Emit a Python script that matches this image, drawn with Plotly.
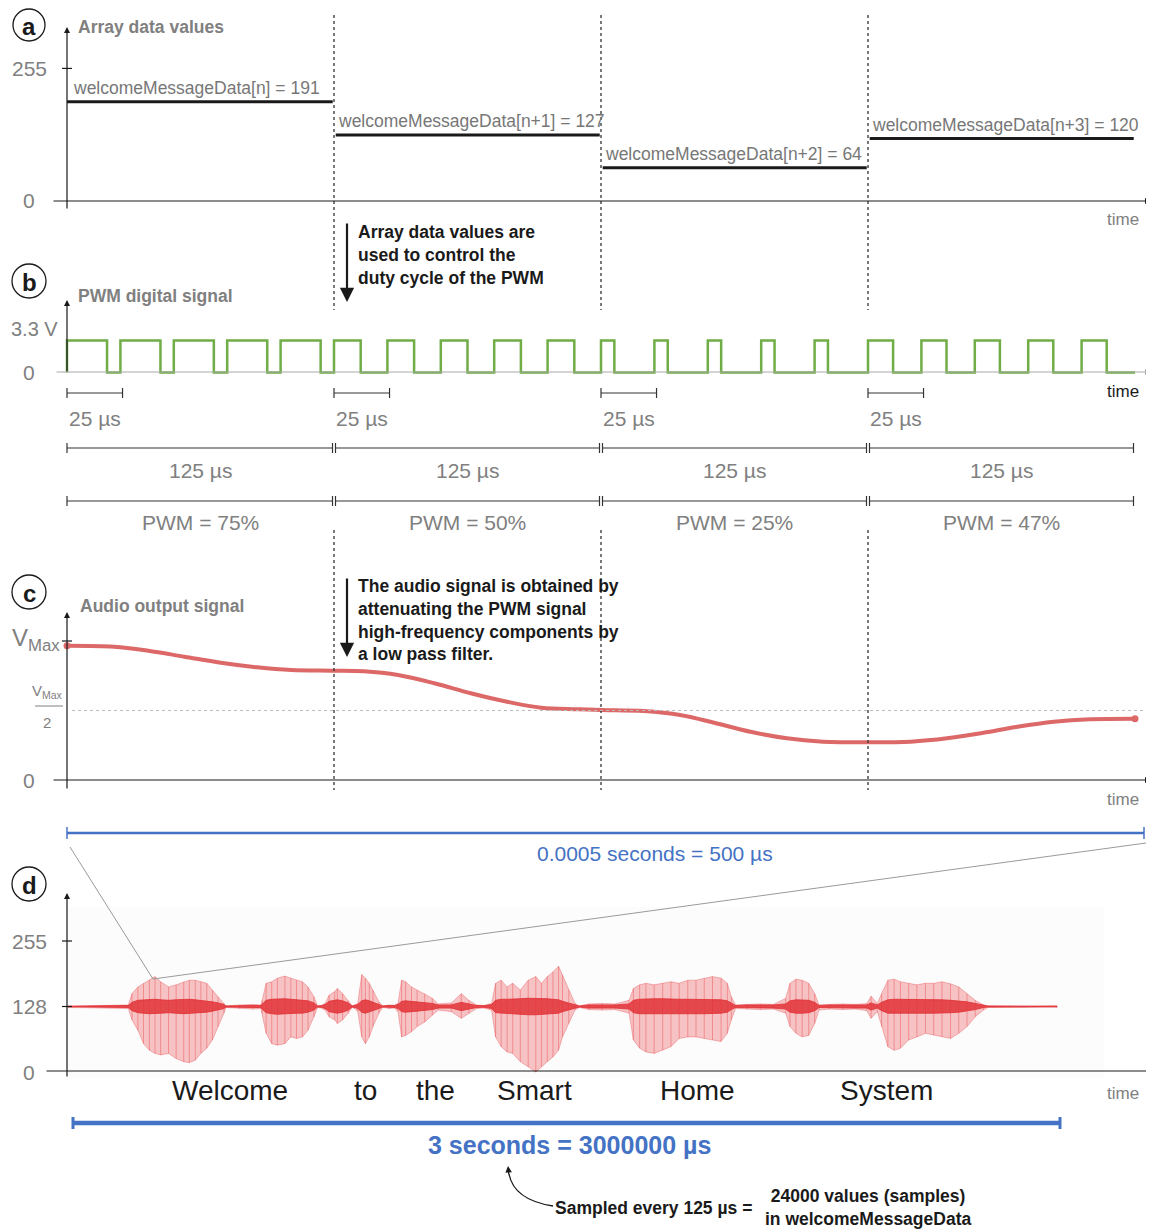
import plotly.graph_objects as go

W, H = 1154, 1231
OFF = 8  # page body margin in the browser
FW, FH = W - OFF, H - OFF

# ---------------- data ----------------
segment_us = 125
pwm_period_us = 25
array_labels = ["welcomeMessageData[n] = 191", "welcomeMessageData[n+1] = 127",
                "welcomeMessageData[n+2] = 64", "welcomeMessageData[n+3] = 120"]
array_values = [191, 127, 64, 120]
pwm_duty_pct = [75, 50, 25, 47]
pwm_labels = ["PWM = 75%", "PWM = 50%", "PWM = 25%", "PWM = 47%"]
pwm_high_v = 3.3
period_label = "25 µs"
segment_label = "125 µs"

# low-pass filtered audio output (fraction of V_Max)
audio_t_us = [0, 22, 38, 55, 72, 89, 105, 124, 139, 155, 172, 189, 206, 222, 239, 250,
              270, 287, 303, 320, 337, 354, 375, 395, 412, 429, 445, 462, 479, 500]
audio_v_rel = [0.966, 0.959, 0.930, 0.887, 0.844, 0.811, 0.791, 0.786, 0.782, 0.755, 0.696,
               0.624, 0.563, 0.520, 0.509, 0.504, 0.496, 0.468, 0.412, 0.347, 0.300, 0.276,
               0.271, 0.276, 0.300, 0.340, 0.383, 0.419, 0.437, 0.441]

# 3 s speech waveform envelope (seconds, 0..255 values)
wave_t_s = [0.000, 0.014, 0.183, 0.194, 0.212, 0.229, 0.247, 0.264, 0.281, 0.305, 0.328, 0.351,
            0.368, 0.386, 0.403, 0.421, 0.438, 0.455, 0.473, 0.479,
            0.520, 0.560, 0.585,
            0.589, 0.601, 0.618, 0.635, 0.658, 0.676, 0.693, 0.711, 0.728, 0.746, 0.757,
            0.768,
            0.780, 0.792, 0.809, 0.817, 0.833, 0.850, 0.862,
            0.870,
            0.879, 0.891, 0.902, 0.914, 0.925, 0.943, 0.955,
            0.975, 0.990,
            1.001, 1.012, 1.024, 1.042, 1.059, 1.082, 1.105, 1.123,
            1.163, 1.193, 1.216, 1.239,
            1.262,
            1.285, 1.297, 1.314, 1.332, 1.349, 1.372, 1.396, 1.419, 1.436, 1.454, 1.471, 1.488,
            1.500, 1.519, 1.538, 1.551,
            1.580, 1.620, 1.660,
            1.702, 1.715, 1.734, 1.753, 1.778, 1.804, 1.829, 1.854, 1.880, 1.905, 1.930, 1.955,
            1.981, 2.000, 2.012, 2.025,
            2.060, 2.100, 2.140,
            2.177, 2.190, 2.208, 2.227, 2.247, 2.265, 2.278,
            2.310, 2.350, 2.390,
            2.423, 2.436, 2.455,
            2.468, 2.487, 2.506, 2.525, 2.550, 2.575, 2.601, 2.626, 2.651, 2.677, 2.702, 2.727,
            2.752, 2.777, 2.790,
            2.900, 3.000]
wave_top = [129, 129, 131, 153, 166, 173, 179, 186, 176, 166, 170, 176, 179, 179, 176, 173, 160, 147, 134, 129,
            131, 132, 131,
            140, 173, 176, 183, 187, 183, 179, 176, 166, 147, 129,
            130,
            134, 150, 157, 163, 153, 140, 129,
            131,
            134, 190, 183, 173, 160, 137, 129,
            131, 130,
            134, 179, 176, 166, 160, 153, 144, 133,
            135, 153, 140, 131,
            130,
            134, 173, 179, 166, 173, 160, 179, 186, 173, 186, 195, 206, 189, 160, 134, 129,
            133, 134, 133,
            140, 163, 170, 173, 170, 173, 176, 173, 179, 179, 183, 186, 183, 173, 147, 131,
            132, 133, 132,
            144, 173, 181, 179, 173, 153, 131,
            132, 133, 132,
            134, 148, 134,
            153, 179, 181, 176, 173, 170, 173, 173, 176, 172, 166, 153, 140, 131, 129,
            129, 129]
wave_bot = [126, 126, 124, 102, 82, 56, 43, 37, 34, 37, 27, 21, 19, 24, 37, 47, 63, 89, 115, 126,
            124, 123, 124,
            115, 76, 56, 53, 56, 69, 66, 69, 82, 108, 126,
            125,
            121, 108, 102, 95, 102, 115, 126,
            124,
            118, 69, 56, 69, 89, 115, 126,
            124, 125,
            118, 69, 72, 79, 89, 98, 111, 121,
            118, 105, 115, 124,
            125,
            121, 69, 50, 40, 37, 21, 11, 1, 11, 21, 30, 43, 69, 95, 121, 126,
            122, 121, 122,
            115, 63, 47, 40, 37, 43, 50, 66, 69, 69, 66, 63, 60, 76, 102, 124,
            123, 122, 123,
            115, 89, 76, 69, 72, 95, 121,
            123, 122, 123,
            120, 105, 118,
            89, 50, 43, 47, 63, 69, 76, 72, 69, 66, 76, 89, 108, 121, 126,
            126, 126]
wave_core = [0.5, 0.5, 2, 8, 12, 13, 14, 14, 13, 12, 13, 14, 14, 13, 12, 11, 9, 7, 4, 1,
             2, 2, 2,
             5, 12, 14, 15, 15, 14, 13, 13, 11, 7, 1,
             1.5,
             4, 10, 12, 13, 11, 7, 1,
             2,
             4, 11, 13, 11, 8, 4, 1,
             2, 2,
             4, 10, 11, 10, 9, 8, 6, 3,
             3, 8, 5, 2,
             1.5,
             4, 12, 14, 14, 15, 15, 16, 16, 15, 15, 14, 13, 10, 7, 3, 1,
             3, 3, 3,
             5, 12, 14, 15, 15, 15, 14, 14, 14, 14, 14, 14, 13, 11, 6, 2,
             3, 3, 3,
             5, 11, 13, 13, 12, 8, 2,
             3, 3, 3,
             3, 7, 3,
             8, 13, 14, 14, 13, 13, 13, 13, 13, 12, 11, 9, 6, 2, 1,
             0.5, 0.5]
wave_mid = 128

words = ["Welcome", "to", "the", "Smart", "Home", "System"]
word_t_s = [0.491, 0.901, 1.116, 1.416, 1.911, 2.484]

a_ticks = [0, 255]
d_ticks = [0, 128, 255]

# ---------------- helpers ----------------
FONT = "Liberation Sans, Arial, Helvetica, sans-serif"
GRAY = "#808080"
DARK = "#1a1a1a"
BLUE = "#4472c4"
GREEN = "#70ad47"
RED_C = "#dc6868"


def P(x):
    return (x - OFF) / FW


def Q(y):
    return 1 - (y - OFF) / FH


def x_range(px0, v0, px1, v1):
    s = (px1 - px0) / (v1 - v0)
    a = px0 - OFF
    return [v0 - a / s, v0 + (FW - a) / s]


def y_axis(px0, v0, px1, v1, top, bot):
    top = max(top, OFF)
    bot = min(bot, H)
    s = (px0 - px1) / (v1 - v0)
    return dict(domain=[1 - (bot - OFF) / FH, 1 - (top - OFF) / FH],
                range=[v0 - (bot - px0) / s, v0 + (px0 - top) / s])


anns, shapes = [], []


def text(x, y, s, size, color=GRAY, bold=False, xanchor="center", yanchor="middle",
         xref="paper", yref="paper", align="center", yshift=0):
    anns.append(dict(x=P(x) if xref == "paper" else x, y=Q(y) if yref == "paper" else y,
                     xref=xref, yref=yref, text=s, showarrow=False, xanchor=xanchor,
                     yanchor=yanchor, align=align, yshift=yshift,
                     font=dict(family=FONT, size=size, color=color,
                               weight="bold" if bold else "normal")))


def arrow(xh, yh, xt, yt, color=DARK, width=1.2, head=2, size=1.0):
    anns.append(dict(x=P(xh), y=Q(yh), xref="paper", yref="paper", ax=xt - xh, ay=yt - yh,
                     axref="pixel", ayref="pixel", text="", showarrow=True, arrowhead=head,
                     arrowsize=size, arrowwidth=width, arrowcolor=color, standoff=0))


def seg(x0, y0, x1, y1, color=DARK, width=1.2, dash="solid", xref="paper", yref="paper"):
    shapes.append(dict(type="line", xref=xref, yref=yref,
                       x0=P(x0) if xref == "paper" else x0, x1=P(x1) if xref == "paper" else x1,
                       y0=Q(y0) if yref == "paper" else y0, y1=Q(y1) if yref == "paper" else y1,
                       line=dict(color=color, width=width, dash=dash)))


def badge(cx, cy, letter, r=17):
    shapes.append(dict(type="circle", xref="paper", yref="paper", x0=P(cx - r), x1=P(cx + r),
                       y0=Q(cy + r), y1=Q(cy - r), line=dict(color=DARK, width=1.3)))
    text(cx, cy + 1, letter, 24, DARK, bold=True)


def bar(t0, t1, ypx, color="#333333", width=1.2, tick=5, xref="x"):
    seg(t0, ypx, t1, ypx, color, width, xref=xref)
    seg(t0, ypx - tick, t0, ypx + tick, color, width, xref=xref)
    seg(t1, ypx - tick, t1, ypx + tick, color, width, xref=xref)


fig = go.Figure()

# ---------------- panel a: array values ----------------
lx, ly = [], []
for i, v in enumerate(array_values):
    t0 = i * segment_us + (0 if i == 0 else 0.8)
    t1 = (i + 1) * segment_us - 0.6
    lx += [t0, t1, None]
    ly += [v, v, None]
fig.add_trace(go.Scatter(x=lx, y=ly, xaxis="x", yaxis="y", mode="lines",
                         line=dict(color=DARK, width=3), hoverinfo="skip", showlegend=False))

# ---------------- panel b: PWM ----------------
px_, py_ = [0], [0]
n_per = segment_us // pwm_period_us
for i, d in enumerate(pwm_duty_pct):
    for k in range(n_per):
        t0 = i * segment_us + k * pwm_period_us
        th = t0 + pwm_period_us * d / 100
        px_ += [t0, t0, th, th]
        py_ += [0, pwm_high_v, pwm_high_v, 0]
px_.append(len(pwm_duty_pct) * segment_us)
py_.append(0)
fig.add_trace(go.Scatter(x=px_, y=py_, xaxis="x", yaxis="y2", mode="lines",
                         line=dict(color=GREEN, width=2.5), hoverinfo="skip", showlegend=False))

# ---------------- panel c: audio output ----------------
fig.add_trace(go.Scatter(x=audio_t_us, y=audio_v_rel, xaxis="x", yaxis="y3", mode="lines",
                         line=dict(color=RED_C, width=4, shape="spline", smoothing=1.0),
                         hoverinfo="skip", showlegend=False))
fig.add_trace(go.Scatter(x=[audio_t_us[0], audio_t_us[-1]], y=[audio_v_rel[0], audio_v_rel[-1]],
                         xaxis="x", yaxis="y3", mode="markers",
                         marker=dict(color=RED_C, size=7), hoverinfo="skip", showlegend=False))

# ---------------- panel d: waveform ----------------
fig.add_trace(go.Scatter(x=wave_t_s + wave_t_s[::-1], y=wave_top + wave_bot[::-1],
                         xaxis="x2", yaxis="y4", mode="lines", fill="toself",
                         fillcolor="rgba(232,70,75,0.32)",
                         line=dict(color="rgba(232,70,75,0.45)", width=0.8),
                         hoverinfo="skip", showlegend=False))
vx, vy = [], []
for t, hi, lo in zip(wave_t_s, wave_top, wave_bot):
    vx += [t, t, None]
    vy += [lo, hi, None]
fig.add_trace(go.Scatter(x=vx, y=vy, xaxis="x2", yaxis="y4", mode="lines",
                         line=dict(color="rgba(232,60,65,0.4)", width=1),
                         hoverinfo="skip", showlegend=False))
core_hi = [wave_mid + c for c in wave_core]
core_lo = [wave_mid - c for c in wave_core]
fig.add_trace(go.Scatter(x=wave_t_s + wave_t_s[::-1], y=core_hi + core_lo[::-1],
                         xaxis="x2", yaxis="y4", mode="lines", fill="toself",
                         fillcolor="rgba(226,50,55,0.85)",
                         line=dict(color="rgba(226,50,55,0.85)", width=1),
                         hoverinfo="skip", showlegend=False))

# ---------------- decorations ----------------
# panel a
badge(29, 25, "a", 16)
arrow(67, 27, 67, 210)
arrow(1151, 201, 52, 201)
seg(62, 255, 72, 255, yref="y")
for v in a_ticks:
    text(29, v, str(v), 21, GRAY, yref="y")
text(76, 27, "Array data values", 17.5, GRAY, bold=True, xanchor="left")
for i, (lab, v) in enumerate(zip(array_labels, array_values)):
    text(i * segment_us + (2 if i == 0 else 1), v, lab, 17.5, "#777777", xanchor="left",
         xref="x", yref="y", yshift=14)
text(1123, 220, "time", 17, GRAY)

for i in range(1, len(array_values)):
    seg(i * segment_us, 15, i * segment_us, 310, "#333333", 1.3, "dot", xref="x")
    seg(i * segment_us, 530, i * segment_us, 790, "#333333", 1.3, "dot", xref="x")

arrow(347, 302, 347, 222, DARK, 2.2, 2, 1.3)
text(356, 220, "Array data values are<br>used to control the<br>duty cycle of the PWM", 17.5,
     DARK, bold=True, xanchor="left", yanchor="top", align="left")

# panel b
badge(29, 281, "b")
text(76, 296, "PWM digital signal", 17.5, GRAY, bold=True, xanchor="left")
arrow(67, 300, 67, 373)
arrow(1151, 372, 55, 372, "#aaaaaa", 1.2)
text(9, pwm_high_v, "3.3 V", 20, GRAY, xanchor="left", yref="y2", yshift=12)
text(29, 0, "0", 21, GRAY, yref="y2")
text(1123, 391, "time", 17, DARK)

for i in range(len(pwm_duty_pct)):
    s = i * segment_us
    bar(s, s + pwm_period_us + 1, 393)
    text(s + (pwm_period_us + 1) / 2, 418, period_label, 21, GRAY, xref="x")
    a0 = s + (0 if i == 0 else 0.7)
    a1 = s + segment_us - 0.7
    bar(a0, a1, 448)
    text(s + segment_us / 2, 470, segment_label, 21, GRAY, xref="x")
    bar(a0, a1, 501)
    text(s + segment_us / 2, 522, pwm_labels[i], 21, GRAY, xref="x")

# panel c
badge(29, 592, "c")
text(78, 606, "Audio output signal", 17.5, GRAY, bold=True, xanchor="left")
arrow(67, 612, 67, 790)
arrow(1151, 780, 52, 780)
seg(62, 1, 72, 1, yref="y3")
text(10, 1, "V<sub>Max</sub>", 24, GRAY, xanchor="left", yref="y3", yshift=2)
seg(72, 0.5, 1150, 0.5, "#bbbbbb", 1, "dot", yref="y3")
text(47, 691, "V<sub>Max</sub>", 15, GRAY)
seg(35, 706, 63, 706, GRAY, 1)
text(47, 722, "2", 15, GRAY)
text(29, 0, "0", 21, GRAY, yref="y3")
text(1123, 799, "time", 17, GRAY)
arrow(347, 657, 347, 577, DARK, 2.2, 2, 1.3)
text(356, 574, "The audio signal is obtained by<br>attenuating the PWM signal<br>"
     "high-frequency components by<br>a low pass filter.", 17.5, DARK, bold=True,
     xanchor="left", yanchor="top", align="left")

# 500 us bar and zoom connectors
seg(67, 833, 1144, 833, BLUE, 2.5)
seg(67, 827, 67, 839, BLUE, 1.5)
seg(1144, 827, 1144, 839, BLUE, 1.5)
text(655, 853, "0.0005 seconds = 500 µs", 21, BLUE)
seg(70, 847, 153, 979, "#9a9a9a", 1)
seg(1146, 843, 153, 979, "#9a9a9a", 1)

# panel d
shapes.append(dict(type="rect", xref="paper", yref="paper", x0=P(67), x1=P(1104),
                   y0=Q(1078), y1=Q(907), fillcolor="#fcfcfc", line=dict(width=0),
                   layer="below"))
badge(29, 884, "d")
arrow(67, 893, 67, 1078)
arrow(1152, 1071, 45, 1071)
for v in d_ticks[1:]:
    seg(62, v, 72, v, yref="y4")
for v in d_ticks:
    text(29, v, str(v), 21, GRAY, yref="y4")
for w, t in zip(words, word_t_s):
    text(t, 1090, w, 28, DARK, xref="x2")
text(1123, 1093, "time", 17, GRAY)

seg(73, 1123, 1060, 1123, BLUE, 4.5)
seg(73, 1117, 73, 1129, BLUE, 3)
seg(1060, 1117, 1060, 1129, BLUE, 3)
text(569, 1145, "3 seconds = 3000000 µs", 25, BLUE, bold=True)

shapes.append(dict(type="path", xref="paper", yref="paper",
                   path=f"M {P(553)},{Q(1206)} Q {P(514)},{Q(1200)} {P(509)},{Q(1174)}",
                   line=dict(color=DARK, width=1.3)))
arrow(508, 1166, 509, 1176, DARK, 1.3, 2, 1.0)
text(654, 1208, "Sampled every 125 µs =", 17.5, DARK, bold=True)
text(868, 1207, "24000 values (samples)<br>in welcomeMessageData", 17.5, DARK, bold=True)

hidden = dict(visible=False, fixedrange=True, showgrid=False, zeroline=False)
fig.update_layout(
    width=FW, height=FH, margin=dict(l=0, r=0, t=0, b=0),
    paper_bgcolor="white", plot_bgcolor="rgba(0,0,0,0)", showlegend=False,
    xaxis=dict(range=x_range(67, 0, 1135, 500), domain=[0, 1], anchor="y", **hidden),
    xaxis2=dict(range=x_range(68, 0, 1057, 3), domain=[0, 1], anchor="y4", **hidden),
    yaxis=dict(**y_axis(201, 0, 101.7, 191, 10, 215), anchor="x", **hidden),
    yaxis2=dict(**y_axis(372.5, 0, 340.5, pwm_high_v, 300, 400), anchor="x", **hidden),
    yaxis3=dict(**y_axis(780, 0, 641, 1.0, 600, 800), anchor="x", **hidden),
    yaxis4=dict(**y_axis(1006.5, 128, 941, 255, 890, 1085), anchor="x2", **hidden),
    annotations=anns, shapes=shapes,
)

fig.write_html("out.html")
